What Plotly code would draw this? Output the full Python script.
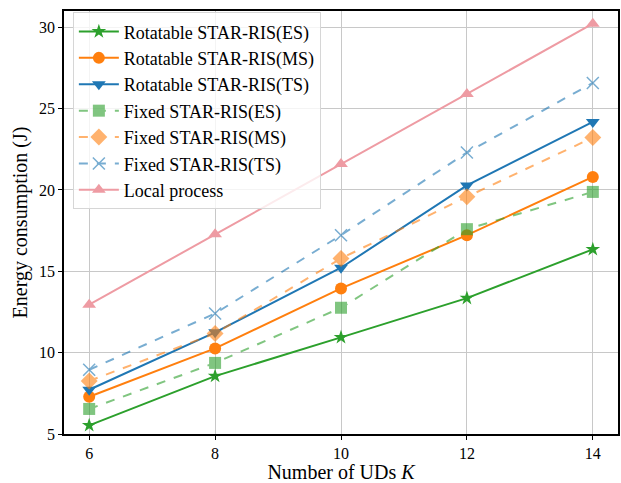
import plotly.graph_objects as go

K = [6, 8, 10, 12, 14]
rot_es = [5.53, 8.56, 10.94, 13.35, 16.35]
rot_ms = [7.29, 10.26, 13.95, 17.22, 20.8]
rot_ts = [7.72, 11.25, 15.22, 20.28, 24.18]
fix_es = [6.54, 9.37, 12.76, 17.59, 19.88]
fix_ms = [8.26, 11.18, 15.79, 19.58, 23.22]
fix_ts = [8.95, 12.41, 17.22, 22.3, 26.58]
local = [12.95, 17.28, 21.6, 25.9, 30.22]

names = ["Rotatable STAR-RIS(ES)", "Rotatable STAR-RIS(MS)", "Rotatable STAR-RIS(TS)",
         "Fixed STAR-RIS(ES)", "Fixed STAR-RIS(MS)", "Fixed STAR-RIS(TS)", "Local process"]
series = [rot_es, rot_ms, rot_ts, fix_es, fix_ms, fix_ts, local]
colors = ["#2ca02c", "#ff7f0e", "#1f77b4", "#2ca02c", "#ff7f0e", "#1f77b4", "#ee9ba3"]
symbols = ["star", "circle", "triangle-down", "square", "diamond", "x-thin-open", "triangle-up"]
dashes = ["solid", "solid", "solid", "dash", "dash", "dash", "solid"]
opac = [1, 1, 1, 0.6, 0.6, 0.6, 1]
msize = [11, 12, 12, 12, 13, 12, 12]

fig = go.Figure()
for i, (n, y) in enumerate(zip(names, series)):
    mk = dict(symbol=symbols[i], size=msize[i], color=colors[i])
    if symbols[i] == "x-thin-open":
        mk["line"] = dict(color=colors[i], width=1.5)
    else:
        mk["line"] = dict(width=0)
    fig.add_trace(go.Scatter(
        x=K, y=y, name=n, mode="lines+markers",
        line=dict(color=colors[i], width=2, dash=dashes[i]),
        marker=mk, opacity=opac[i], legendgroup=f"g{i}",
    ))

font = "Liberation Serif, Times New Roman, serif"
axis_common = dict(
    showgrid=True, gridcolor="#c8c8c8", gridwidth=1,
    showline=True, linecolor="black", linewidth=1.5, mirror=True,
    ticks="outside", ticklen=4, tickwidth=1, tickcolor="black",
    tickfont=dict(family=font, size=16, color="black"),
    zeroline=False,
)
fig.update_layout(
    width=621, height=483,
    margin=dict(l=64, r=1, t=11, b=49),
    paper_bgcolor="white", plot_bgcolor="white",
    font=dict(family=font, color="black"),
    xaxis=dict(range=[5.6, 14.4], tickvals=[6, 8, 10, 12, 14],
               title=dict(text="Number of UDs <i>K</i>", font=dict(family=font, size=20), standoff=2),
               **axis_common),
    yaxis=dict(range=[5, 31], tickvals=[5, 10, 15, 20, 25, 30],
               title=dict(text="Energy consumption (J)", font=dict(family=font, size=20), standoff=6),
               **axis_common),
    legend=dict(x=0.016, y=0.997, xanchor="left", yanchor="top",
                bgcolor="rgba(255,255,255,0.8)", bordercolor="#d6d6d6", borderwidth=1,
                font=dict(family=font, size=18, color="black"),
                itemwidth=40,
                tracegroupgap=0, traceorder="normal"),
    showlegend=True,
)
fig.write_html("out.html")
